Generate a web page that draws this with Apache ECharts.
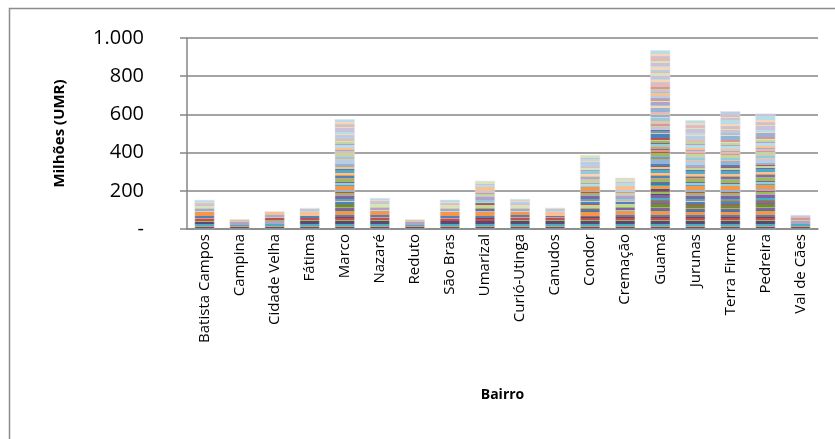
<!DOCTYPE html>
<html>
<head>
<meta charset="utf-8">
<script src="https://cdn.jsdelivr.net/npm/echarts@6/dist/echarts.min.js"></script>
<style>
    html, body { margin: 0; padding: 0; background: #fff; }
    #chart { width: 835px; height: 439px; }
</style>
</head>
<body>
<div id="chart"></div>
<script>
    // bairros e totais (milhões UMR)
    var bairros = ['Batista Campos', 'Campina', 'Cidade Velha', 'Fátima', 'Marco', 'Nazaré', 'Reduto',
        'São Bras', 'Umarizal', 'Curió-Utinga', 'Canudos', 'Condor', 'Cremação', 'Guamá', 'Jurunas',
        'Terra Firme', 'Pedreira', 'Val de Cães']
    var totais = [152, 51, 92, 110, 575, 162, 50, 153, 252, 157, 111, 388, 267, 936, 570, 617, 605, 73]
    var yTicks = [0, 200, 400, 600, 800, 1000]

    // paleta tipo Excel: tons escuros em baixo, claros em cima
    var dark = ['#3A5F8B', '#8E3B39', '#71893F', '#5C4776', '#31849B', '#C6711F']
    var base = ['#4F81BD', '#C0504D', '#9BBB59', '#8064A2', '#4BACC6', '#F79646']
    var light = ['#95B3D7', '#D99694', '#C3D69B', '#B3A2C7', '#93CDDD', '#FAC090']
    var pale = ['#B9CDE5', '#E6B9B8', '#D7E4BD', '#CCC1DA', '#B7DEE8', '#FCD5B5']
    var widths = [2, 1, 2, 3, 1, 2, 1, 2, 4, 1, 2, 1, 3, 1]

    var plotH = 191.3 // px por 1000

    function stripes(v) {
        var h = v / 1000 * plotH
        var segs = [], total = 0, i = 0
        while (total < h) {
            var w = widths[i % widths.length]
            segs.push(w)
            total += w
            i++
        }
        var stops = [], acc = 0
        for (var k = 0; k < segs.length; k++) {
            var f = acc / total
            var hue = (k * 5 + Math.floor(k / 6)) % 6
            var pal = f < 0.25 ? (k % 3 ? base : dark) : f < 0.55 ? (k % 3 ? base : light) : f < 0.8 ? (k % 3 ? light : pale) : pale
            var c = pal[hue]
            stops.push({offset: acc / total, color: c})
            acc += segs[k]
            stops.push({offset: Math.min(1, acc / total), color: c})
        }
        return new echarts.graphic.LinearGradient(0, 1, 0, 0, stops)
    }

    var chart = echarts.init(document.getElementById('chart'))
    chart.setOption({
        animation: false,
        textStyle: {fontFamily: 'Open Sans'},
        grid: {left: 187, right: 17, top: 38, bottom: 210},
        graphic: [{
            type: 'rect',
            shape: {x: 9.5, y: 8.5, width: 900, height: 600},
            style: {fill: 'none', stroke: '#8c8c8c', lineWidth: 1.5}
        }],
        xAxis: {
            type: 'category',
            data: bairros,
            name: 'Bairro',
            nameLocation: 'middle',
            nameGap: 159,
            nameTextStyle: {fontWeight: 'bold', fontSize: 14, color: '#000', fontFamily: 'Open Sans'},
            axisLine: {lineStyle: {color: '#868686', width: 1.5}},
            axisTick: {show: false},
            axisLabel: {rotate: 90, fontSize: 15, color: '#000', margin: 5, interval: 0}
        },
        yAxis: {
            type: 'value',
            min: 0,
            max: 1000,
            interval: 200,
            name: 'Milhões (UMR)',
            nameLocation: 'middle',
            nameGap: 120,
            nameTextStyle: {fontWeight: 'bold', fontSize: 15, color: '#000', fontFamily: 'Open Sans'},
            axisLine: {show: true, lineStyle: {color: '#868686', width: 1.5}},
            axisTick: {show: true, length: 7, lineStyle: {color: '#868686', width: 1.5}},
            splitLine: {lineStyle: {color: '#868686', width: 1.5}},
            axisLabel: {
                fontSize: 20, color: '#000', margin: 43,
                formatter: function (v) {
                    if (v === 0) return '-'
                    return v >= 1000 ? (v / 1000) + '.' + String(v % 1000).padStart(3, '0') : String(v)
                }
            }
        },
        series: [{
            type: 'bar',
            barWidth: 20,
            data: totais.map(function (v) {
                return {value: v, itemStyle: {color: stripes(v), borderColor: 'rgba(225,225,235,0.9)', borderWidth: 0.5}}
            })
        }]
    })
</script>
</body>
</html>
